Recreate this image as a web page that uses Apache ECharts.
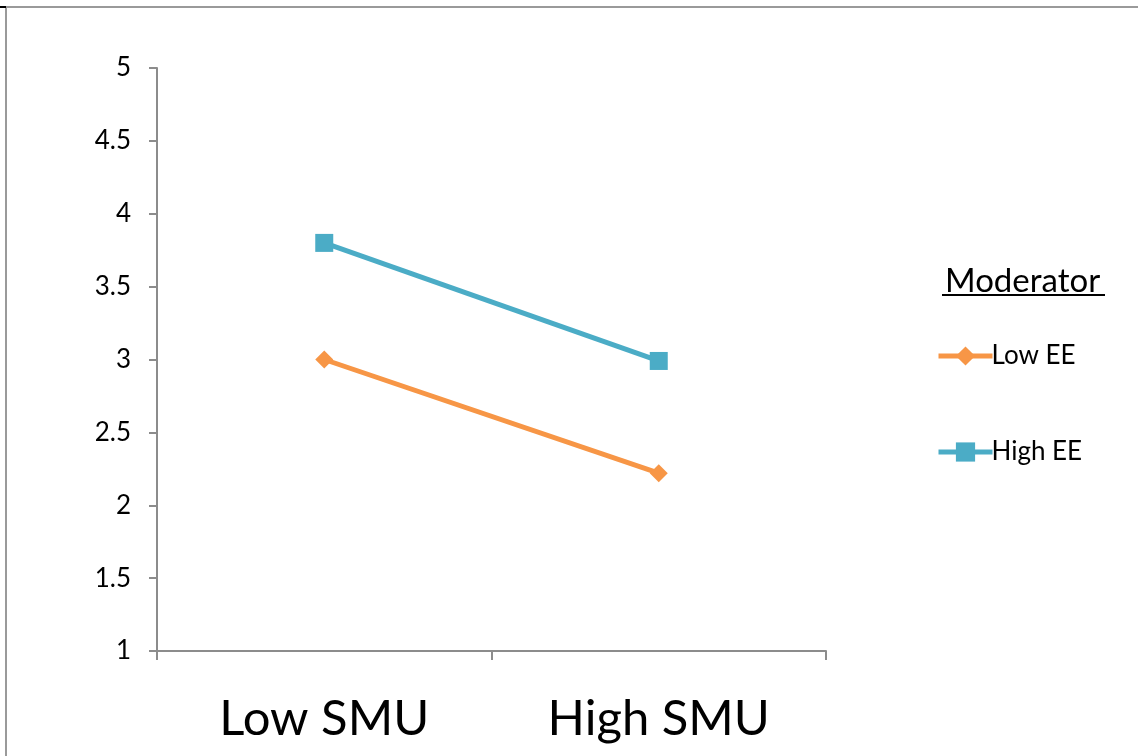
<!DOCTYPE html>
<html><head><meta charset="utf-8">
<script src="https://cdn.jsdelivr.net/npm/echarts@6/dist/echarts.min.js"></script>
<style>html,body{margin:0;padding:0;background:#fff}#c{width:1138px;height:756px}</style>
</head><body><div id="c"></div>
<script>
const categories = ['Low SMU', 'High SMU'];
const lowEE = [3.0, 2.22];
const highEE = [3.8, 2.99];
const yTicks = { min: 1, max: 5, interval: 0.5 };
const legendTitle = 'Moderator';

const chart = echarts.init(document.getElementById('c'));
const FONT = 'Lato, "Open Sans", sans-serif';
chart.setOption({
  animation: false,
  backgroundColor: '#fff',
  grid: { left: 157, right: 312, top: 68, bottom: 105 },
  title: {
    text: legendTitle, left: 940, top: 260,
    textStyle: { fontFamily: FONT, fontSize: 33, fontWeight: 'normal', color: '#000' }
  },
  legend: {
    orient: 'vertical', left: 931, top: 338, itemGap: 70,
    itemWidth: 54, itemHeight: 24,
    lineStyle: { width: 5 },
    textStyle: { fontFamily: FONT, fontSize: 26, color: '#000', padding: [0, 0, 0, -6] },
    data: ['Low EE', 'High EE']
  },
  xAxis: {
    type: 'category', data: categories, boundaryGap: true,
    axisLine: { lineStyle: { color: '#8c8c8c', width: 2 } },
    axisTick: { show: true, length: 9, lineStyle: { color: '#8c8c8c', width: 2 } },
    axisLabel: { fontFamily: FONT, fontSize: 49, color: '#000', margin: 44 }
  },
  yAxis: {
    type: 'value', min: yTicks.min, max: yTicks.max, interval: yTicks.interval,
    axisLine: { show: true, lineStyle: { color: '#8c8c8c', width: 2 } },
    axisTick: { show: true, length: 8, lineStyle: { color: '#8c8c8c', width: 2 } },
    splitLine: { show: false },
    axisLabel: { fontFamily: FONT, fontSize: 26, color: '#000', margin: 26 }
  },
  series: [
    { name: 'Low EE', type: 'line', data: lowEE, symbol: 'diamond', symbolSize: 18,
      color: '#F79646', lineStyle: { width: 5, color: '#F79646' }, itemStyle: { color: '#F79646' } },
    { name: 'High EE', type: 'line', data: highEE, symbol: 'rect', symbolSize: 18,
      color: '#4BACC6', lineStyle: { width: 5, color: '#4BACC6' }, itemStyle: { color: '#4BACC6' } }
  ],
  graphic: [
    { type: 'line', shape: { x1: 6, y1: 7, x2: 1138, y2: 7 }, style: { stroke: '#9a9a9a', lineWidth: 2 } },
    { type: 'line', shape: { x1: 6, y1: 7, x2: 6, y2: 756 }, style: { stroke: '#9a9a9a', lineWidth: 2 } },
    { type: 'line', shape: { x1: 0, y1: 7, x2: 6, y2: 7 }, style: { stroke: '#000', lineWidth: 2 } },
    { type: 'line', shape: { x1: 942, y1: 295, x2: 1105, y2: 295 }, style: { stroke: '#000', lineWidth: 2 } }
  ]
});
</script></body></html>
